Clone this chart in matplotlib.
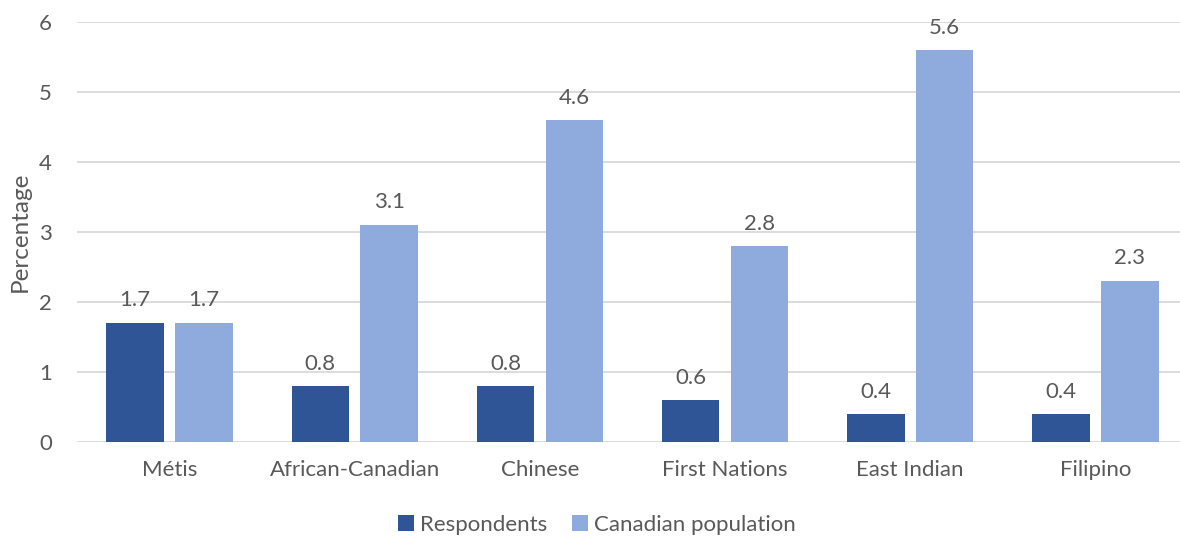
import matplotlib.pyplot as plt
import numpy as np

categories = ['Métis', 'African-Canadian', 'Chinese', 'First Nations', 'East Indian', 'Filipino']
respondents = [1.7, 0.8, 0.8, 0.6, 0.4, 0.4]
canadian_pop = [1.7, 3.1, 4.6, 2.8, 5.6, 2.3]

dark = '#2F5597'
light = '#8FAADC'
txt = '#595959'

plt.rcParams['font.family'] = ['Lato', 'DejaVu Sans']

fig = plt.figure(figsize=(11.8, 5.38), dpi=100)
ax = fig.add_axes([77/1180, 96/538, 1111/1180, 420/538])

x = np.arange(len(categories))
w = 0.31
off = 0.186
b1 = ax.bar(x - off, respondents, w, color=dark, label='Respondents', zorder=3)
b2 = ax.bar(x + off, canadian_pop, w, color=light, label='Canadian population', zorder=3)

for bars, vals in ((b1, respondents), (b2, canadian_pop)):
    for r, v in zip(bars, vals):
        ax.annotate(f"{v:.1f}", (r.get_x() + r.get_width()/2, v), xytext=(0, 9),
                    textcoords='offset points', ha='center', va='bottom',
                    fontsize=16, color=txt)

ax.set_xlim(-0.5, len(categories) - 0.5)
ax.set_ylim(0, 6)
ax.set_yticks(range(7))
ax.set_xticks(x)
ax.set_xticklabels(categories)
ax.tick_params(axis='both', length=0, labelsize=16, colors=txt)
ax.tick_params(axis='y', pad=18)
ax.tick_params(axis='x', pad=13)
ax.yaxis.grid(True, color='#D9D9D9', lw=1.3, zorder=0)
for s in ax.spines.values():
    s.set_visible(False)

ax.set_ylabel('Percentage', fontsize=17.5, color=txt, labelpad=6)

fig.legend(handles=[b1, b2], loc='center', bbox_to_anchor=(597/1180, 1 - 525/538),
           ncol=2, frameon=False, fontsize=16, labelcolor=txt,
           handlelength=0.7, handleheight=0.7, handletextpad=0.3, columnspacing=1.1)

fig.savefig('out.png', dpi=100)
